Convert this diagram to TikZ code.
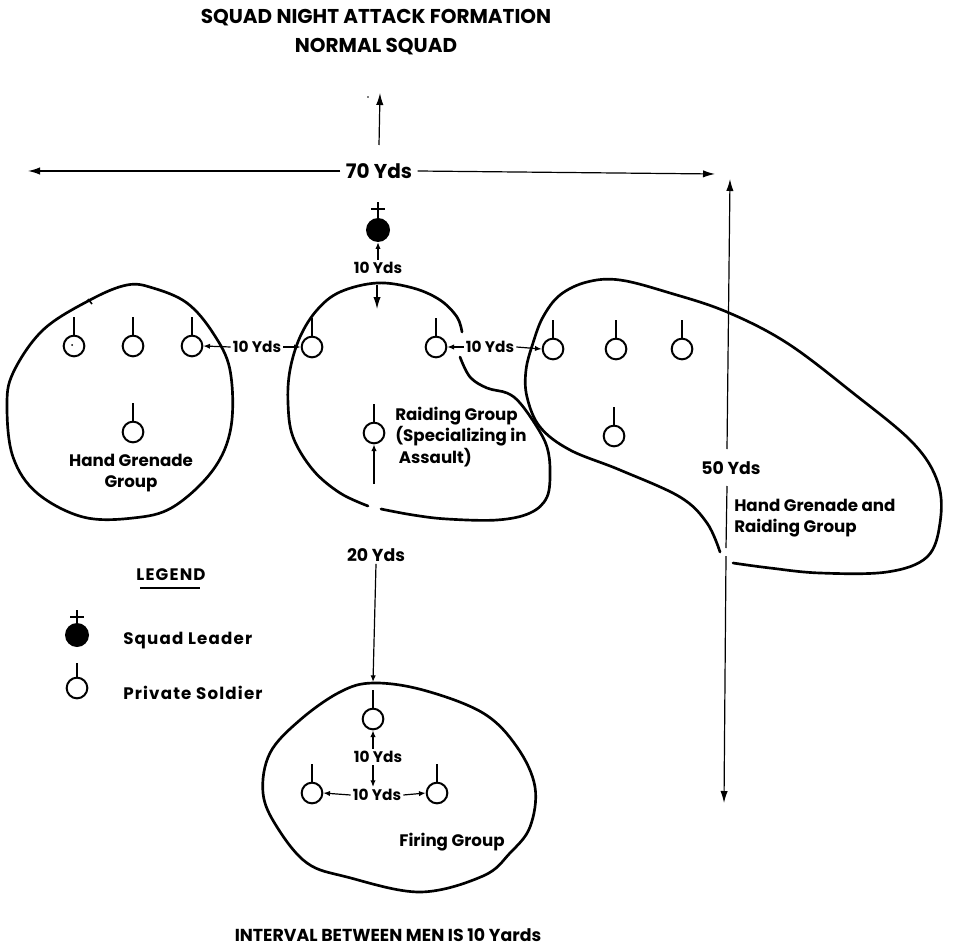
\documentclass[tikz,border=0pt]{standalone}
\usepackage{fontspec}
\setmainfont{Poppins}
\usetikzlibrary{arrows.meta}
\begin{document}
\begin{tikzpicture}[x=0.75pt,y=-0.75pt,
  blob/.style={line width=2pt,line join=round,line cap=round},
  dimln/.style={line width=0.9pt},
  bigarr/.style={dimln,-{Latex[length=9pt,width=5.5pt]}},
  smarr/.style={dimln,-{Latex[length=5pt,width=4pt]}},
  soldier/.style={circle,draw,line width=1.5pt,minimum size=15.5pt,inner sep=0pt},
  leader/.style={circle,fill,minimum size=18pt,inner sep=0pt},
  stem/.style={line width=1.2pt},
  lbl/.style={font=\bfseries\fontsize{11.5}{13}\selectfont,inner sep=1.5pt},
  mid/.style={font=\bfseries\fontsize{13}{13}\selectfont,inner sep=1.5pt},
  grp/.style={font=\bfseries\fontsize{12.5}{16}\selectfont,inner sep=0pt},
  leg/.style={font=\bfseries\fontsize{12.5}{14}\selectfont\addfontfeatures{LetterSpace=7},inner sep=0pt},
  big/.style={font=\bfseries\fontsize{15}{22}\selectfont,inner sep=2pt}]
\useasboundingbox (0,0) rectangle (955,948);

% titles
\node[big,align=center] (title) at (376,32) {SQUAD NIGHT ATTACK FORMATION\\NORMAL SQUAD};

% direction arrow
\coordinate (up0) at (379,145);
\coordinate (up1) at (380,93);
\draw[bigarr] (up0) -- (up1);
\fill (368,97) circle (0.8);

% 70 yds
\node[big,inner sep=4pt] (n70) at (379,171) {70 Yds};
\coordinate (c70l) at (28,171);
\coordinate (c70r) at (715,174);
\draw[bigarr] (n70.west) -- (c70l);
\draw[bigarr] (n70.east) -- (c70r);

% 50 yds
\node[mid] (n50) at (731,468) {50 Yds};
\coordinate (c50t) at (730,179);
\coordinate (c50a) at (727,449);
\coordinate (c50b) at (727,486);
\coordinate (c50c) at (726,548);
\coordinate (c50d) at (726,556);
\coordinate (c50e) at (724,803);
\draw[bigarr] (c50a) -- (c50t);
\draw[dimln] (c50b) -- (c50c);
\draw[bigarr] (c50d) -- (c50e);

% squad leader
\node[leader] (L) at (378,230) {};
\draw[stem] (L.north) -- ++(0,-16);
\draw[stem] (371,209) -- (385,209);
\node[lbl] (n1) at (378,268) {10 Yds};
\draw[smarr] (n1.north) -- (L.south);
\coordinate (rtop) at (377,285);
\coordinate (rtopt) at (377,309);
\draw[bigarr] (rtop) -- (rtopt);

% left group: Hand Grenade Group
\draw[blob] plot[smooth cycle,tension=0.6] coordinates {(127,285) (153,288) (187,303) (213,333) (230,370) (231,427) (213,470) (173,507) (133,518) (83,517) (37,493) (13,457) (7,407) (13,373) (43,330) (90,300)};
\draw[line width=1.2pt] (88,299) -- (92,304);
\node[soldier] (h1) at (74,346) {};
\node[soldier] (h2) at (133,346) {};
\node[soldier] (h3) at (192,346) {};
\node[soldier] (h4) at (133,432) {};
\fill (72,345) circle (1);
\node[grp,align=center] (hg) at (131,473) {Hand Grenade\\Group};

% raiding group
\draw[blob] plot[smooth,tension=0.6] coordinates {(368,506) (340,493) (313,470) (293,437) (288,403) (290,370) (300,337) (317,310) (340,292) (377,283) (413,288) (440,300) (457,317) (462,332)};
\draw[blob] plot[smooth,tension=0.6] coordinates {(460,357) (470,377) (487,388) (507,393) (520,403) (537,427) (547,447) (550,470) (547,497) (530,513) (497,520) (447,519) (413,515) (381,509)};
\node[soldier] (r1) at (312,347) {};
\node[soldier] (r2) at (436,347) {};
\node[soldier] (r3) at (374,433) {};
\node[grp,align=left,anchor=north west] (rg) at (395,407) {Raiding Group\\(Specializing in\\\ Assault)};

% right group
\draw[blob] plot[smooth,tension=0.6] coordinates {(733,563) (770,568) (820,573) (887,572) (927,557) (940,523) (938,483) (913,443) (853,393) (787,343) (727,312) (670,293) (620,280) (587,282) (560,295) (543,317) (533,343) (526,370) (527,397) (540,427) (570,450) (620,470) (680,497) (707,523) (720,552)};
\node[soldier] (g1) at (553,349) {};
\node[soldier] (g2) at (616,349) {};
\node[soldier] (g3) at (682,349) {};
\node[soldier] (g4) at (614,436) {};
\node[grp,align=left,anchor=north west] (hgr) at (734,499) {Hand Grenade and\\Raiding Group};

% firing group
\draw[blob] plot[smooth cycle,tension=0.6] coordinates {(373,683) (423,690) (483,713) (517,747) (535,787) (530,827) (510,853) (483,876) (420,892) (347,877) (307,863) (277,827) (263,793) (270,753) (300,720) (340,692)};
\node[soldier] (f1) at (373,719) {};
\node[soldier] (f2) at (312,793) {};
\node[soldier] (f3) at (437,793) {};
\node[grp] (fg) at (452,842) {Firing Group};

% stems
\foreach \s in {h1,h2,h3,h4,r1,r2,r3,g1,g2,g3,g4,f1,f2,f3}
  \draw[stem] (\s.north) -- ++(0,-18);

% intervals
\node[lbl] (n2) at (257,347) {10 Yds};
\draw[smarr] (n2.west) -- (h3.east);
\draw[smarr] (n2.east) -- (r1.west);
\node[lbl] (n3) at (490,347) {10 Yds};
\draw[smarr] (n3.west) -- (r2.east);
\draw[smarr] (n3.east) -- (g1.west);

% 20 yds
\node[mid] (n20) at (376,555) {20 Yds};
\coordinate (c20a) at (374,484);
\coordinate (c20b) at (373,682);
\draw[smarr] (c20a) -- (c20a |- r3.south);
\draw[smarr] (n20.south) -- (c20b);

% firing group intervals
\node[lbl] (n4) at (378,757) {10 Yds};
\draw[smarr] (n4.north -| f1) -- (f1.south);
\node[lbl] (n5) at (377,795) {10 Yds};
\draw[smarr] (n4.south -| f1) -- (n5.north -| f1);
\draw[smarr] (n5.west) -- (f2.east);
\draw[smarr] (n5.east) -- (f3.west);

% legend
\node[leg] (legt) at (171,575) {LEGEND};
\draw[line width=1.2pt] (140,588) -- (200,588);
\node[leader] (lg1) at (77,635) {};
\draw[stem] (lg1.north) -- ++(0,-13);
\draw[stem] (70,617) -- (84,617);
\node[leg,anchor=west] (lt1) at (123,641) {Squad Leader};
\node[soldier] (lg2) at (77,688) {};
\draw[stem] (lg2.north) -- ++(0,-14);
\node[leg,anchor=west] (lt2) at (123,693) {Private Soldier};

% footer
\node[big,font=\bfseries\fontsize{13}{16}\selectfont] (foot) at (388,935) {INTERVAL BETWEEN MEN IS 10 Yards};
\end{tikzpicture}
\end{document}
